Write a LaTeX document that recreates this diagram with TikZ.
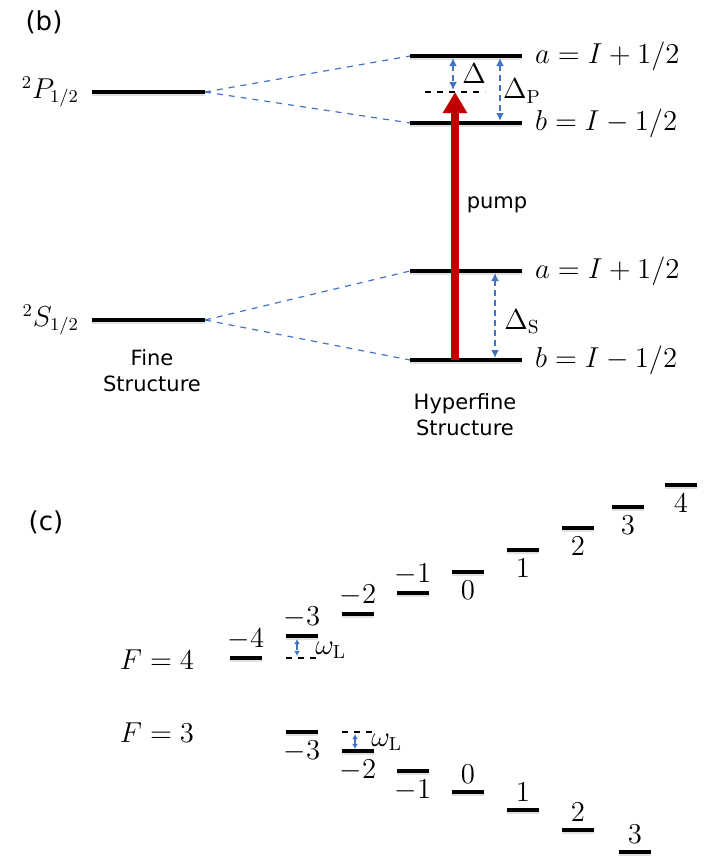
\documentclass[tikz,border=0pt]{standalone}
\usepackage{fontspec}
\newfontfamily\sansfont{DejaVu Sans}
\usetikzlibrary{arrows.meta}
\definecolor{splitblue}{RGB}{68,114,196}
\definecolor{pumpred}{RGB}{192,0,0}
\tikzset{
  level/.style={line width=1.6pt,preaction={draw=black!12,line width=2.4pt,transform canvas={yshift=-0.8pt}}},
  virtual/.style={dashed,line width=0.8pt},
  split/.style={splitblue,dashed,line width=0.6pt},
  gap/.style={splitblue,densely dashed,line width=0.8pt,{Latex[length=4pt,width=4pt]}-{Latex[length=4pt,width=4pt]}},
  smallgap/.style={gap,{Latex[length=2.6pt,width=3pt]}-{Latex[length=2.6pt,width=3pt]}},
  pump/.style={pumpred,line width=4pt,-{Triangle[length=10.5pt,width=11.5pt]}},
  mathlbl/.style={font=\fontsize{13.5}{16}\selectfont},
  word/.style={font=\sansfont\fontsize{10.5}{13}\selectfont,align=center},
  tag/.style={font=\sansfont\fontsize{13}{15}\selectfont},
}
\begin{document}
\begin{tikzpicture}[x=0.5pt,y=-0.5pt]
\useasboundingbox (0,0) rectangle (706,863);

% (b) fine and hyperfine structure
\node[tag] (b) at (44,22) {(b)};
\draw[level] (92,92) coordinate (P1) -- (205,92) coordinate (P2);
\draw[level] (92,320) coordinate (S1) -- (205,320) coordinate (S2);
\node[mathlbl,anchor=east] (Plbl) at (86,92) {$^2P_{1/2}$};
\node[mathlbl,anchor=east] (Slbl) at (86,320) {$^2S_{1/2}$};
\node[word] (fine) at (152,371) {Fine\\Structure};

\draw[level] (410,56) coordinate (aPl) -- (522,56) coordinate (aPr);
\draw[level] (410,123) coordinate (bPl) -- (522,123) coordinate (bPr);
\draw[level] (410,271) coordinate (aSl) -- (522,271) coordinate (aSr);
\draw[level] (410,360) coordinate (bSl) -- (522,360) coordinate (bSr);
\draw[virtual] (425,92) -- (485,92);
\node[word] (hyper) at (465,415) {Hyperfine\\Structure};

\draw[split] (P2) -- (aPl);
\draw[split] (P2) -- (bPl);
\draw[split] (S2) -- (aSl);
\draw[split] (S2) -- (bSl);

\node[mathlbl,anchor=west] (aP) at (528,56) {$a=I+1/2$};
\node[mathlbl,anchor=west] (bP) at (528,123) {$b=I-1/2$};
\node[mathlbl,anchor=west] (aS) at (528,271) {$a=I+1/2$};
\node[mathlbl,anchor=west] (bS) at (528,360) {$b=I-1/2$};

\coordinate (foot) at (455,360);
\coordinate (virt) at (455,92);
\draw[pump] (foot) -- (virt);
\node[word] (pumplbl) at (497,205) {pump};

\draw[gap] (453,58) coordinate (d1) -- (453,90) coordinate (d2);
\node[mathlbl] (delta) at (474,74) {$\Delta$};
\draw[gap] (500,58) coordinate (dp1) -- (500,121) coordinate (dp2);
\node[mathlbl] (deltaP) at (522,91) {$\Delta_{\mathrm{P}}$};
\draw[gap] (495,273) coordinate (ds1) -- (495,358) coordinate (ds2);
\node[mathlbl] (deltaS) at (522,322) {$\Delta_{\mathrm{S}}$};

% (c) Zeeman sublevels
\node[tag] (c) at (46,522) {(c)};
\node[mathlbl] (F4) at (157,660) {$F=4$};
\node[mathlbl] (F3) at (157,733) {$F=3$};

\foreach \m/\x/\y/\side in {-4/230/658/above,-3/286/636/above,-2/342/614/above,-1/397/593/above,
    0/452/572/below,1/507/550/below,2/562/528/below,3/612/507/below,4/665/485/below}
  \draw[level] (\x,\y) -- ++(32,0) node[midway,\side=2.5pt,mathlbl,inner sep=1pt] (up\m) {$\m$};
\foreach \m/\x/\y/\side in {-3/286/732/below,-2/342/751/below,-1/397/771/below,
    0/452/792/above,1/507/810/above,2/562/830/above,3/619/852/above}
  \draw[level] (\x,\y) -- ++(32,0) node[midway,\side=2.5pt,mathlbl,inner sep=1pt] (lo\m) {$\m$};

\draw[virtual] (286,658) -- (318,658);
\draw[smallgap] (297,639) coordinate (w1) -- (297,656) coordinate (w2);
\node[mathlbl,anchor=west,inner sep=1pt] (wL4) at (313,650) {$\omega_{\mathrm{L}}$};
\draw[virtual] (342,732) -- (374,732);
\draw[smallgap] (355,734) coordinate (w3) -- (355,749) coordinate (w4);
\node[mathlbl,anchor=west,inner sep=1pt] (wL3) at (369,742) {$\omega_{\mathrm{L}}$};
\end{tikzpicture}
\end{document}
